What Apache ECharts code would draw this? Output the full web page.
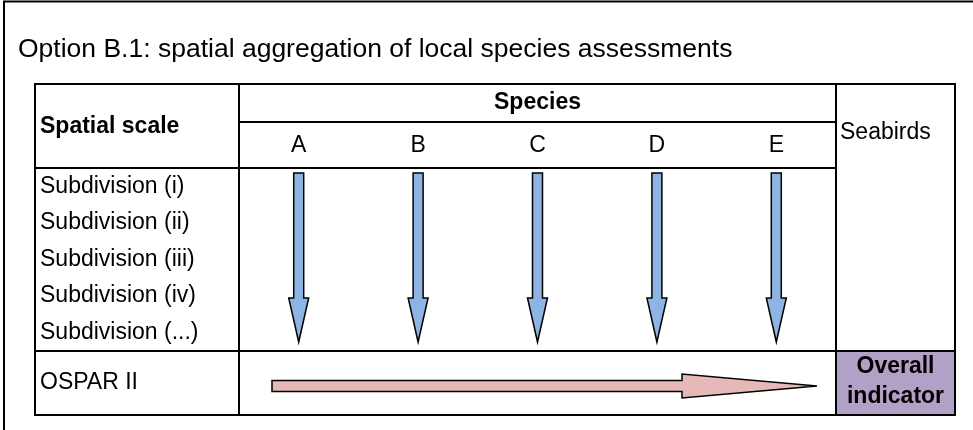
<!DOCTYPE html>
<html>
<head>
<meta charset="utf-8">
<script src="https://cdn.jsdelivr.net/npm/echarts@6/dist/echarts.min.js"></script>
<style>
  html, body { margin: 0; padding: 0; background: #fff; }
  #chart { width: 973px; height: 430px; }
</style>
</head>
<body>
<div id="chart"></div>
<script>
// table content
const chartTitle = 'Option B.1: spatial aggregation of local species assessments'
const species = ['A', 'B', 'C', 'D', 'E']
const subdivisions = ['Subdivision (i)', 'Subdivision (ii)', 'Subdivision (iii)', 'Subdivision (iv)', 'Subdivision (...)']
const regions = ['OSPAR II']
const speciesGroup = 'Seabirds'
const outcome = ['Overall', 'indicator']

const FONT = "'Liberation Sans', Arial, sans-serif"
const BLUE = '#8DB4E2'
const PINK = '#E6B9B8'
const PURPLE = '#B2A1C7'

// cells of the table, each one a grid: [x0, y0, x1, y1, fill]
// first two carry the real axes (species x subdivisions, species x region)
const boxes = [
  [239, 168, 836, 351],
  [239, 351, 836, 415],
  [4, 1.5, 1300, 900],
  [35, 84, 239, 168],
  [239, 84, 836, 122],
  [239, 122, 836, 168],
  [836, 84, 955, 351],
  [35, 168, 239, 351],
  [35, 351, 239, 415],
  [836, 351, 955, 415, PURPLE]
]

const grid = boxes.map(b => ({
  left: b[0], top: b[1], width: b[2] - b[0], height: b[3] - b[1],
  show: true, borderColor: '#000', borderWidth: 2,
  backgroundColor: b[4] || 'transparent',
  containLabel: false, outerBoundsMode: 'none'
}))

const hidden = { axisLine: { show: false }, axisTick: { show: false }, splitLine: { show: false } }
const label = { color: '#000', fontSize: 23, fontFamily: FONT }

const xAxis = boxes.map((b, i) => ({ type: 'value', gridIndex: i, min: 0, max: 1, ...hidden, axisLabel: { show: false } }))
const yAxis = boxes.map((b, i) => ({ type: 'value', gridIndex: i, min: 0, max: 1, ...hidden, axisLabel: { show: false } }))

xAxis[0] = {
  type: 'category', gridIndex: 0, data: species, position: 'top', boundaryGap: true, ...hidden,
  axisLabel: { ...label, interval: 0, margin: 11 }
}
yAxis[0] = {
  type: 'category', gridIndex: 0, data: subdivisions, inverse: true, ...hidden,
  axisLabel: { ...label, interval: 0, align: 'left', margin: 199 }
}
yAxis[1] = {
  type: 'category', gridIndex: 1, data: regions, ...hidden,
  axisLabel: { ...label, align: 'left', margin: 199 }
}

// one down arrow per species: local assessments aggregated over subdivisions
function downArrow(params, api) {
  const cs = params.coordSys
  const cx = api.coord([api.value(0), 0])[0]
  const y0 = cs.y + 5
  const ys = cs.y + cs.height - 53
  const yt = cs.y + cs.height - 9
  return {
    type: 'polygon',
    shape: { points: [[cx - 5, y0], [cx + 5, y0], [cx + 5, ys], [cx + 10, ys], [cx, yt], [cx - 10, ys], [cx - 5, ys]] },
    style: { fill: BLUE, stroke: '#000', lineWidth: 1.5 }
  }
}

// species results aggregated at OSPAR II level into the overall indicator
function sideArrow(params, api) {
  const start = api.coord([api.value(0), 0])
  const end = api.coord([api.value(1), 0])
  const x0 = start[0] + 33
  const xt = end[0] - 19
  const xs = xt - 135
  const cy = start[1] + 3
  return {
    type: 'polygon',
    shape: { points: [[x0, cy - 5.5], [xs, cy - 5.5], [xs, cy - 12], [xt, cy], [xs, cy + 12], [xs, cy + 5.5], [x0, cy + 5.5]] },
    style: { fill: PINK, stroke: '#000', lineWidth: 1.5 }
  }
}

const titleStyle = (size, weight) => ({ color: '#000', fontSize: size, fontWeight: weight, fontFamily: FONT })

const chart = echarts.init(document.getElementById('chart'))
chart.setOption({
  animation: false,
  backgroundColor: '#fff',
  title: [
    { text: chartTitle, left: 18, top: 50, padding: 0, textAlign: 'left', textVerticalAlign: 'middle', textStyle: titleStyle(26.5, 'normal') },
    { text: 'Spatial scale', left: 40, top: 127, padding: 0, textAlign: 'left', textVerticalAlign: 'middle', textStyle: titleStyle(23, 'bold') },
    { text: 'Species', left: 537.5, top: 103, padding: 0, textAlign: 'center', textVerticalAlign: 'middle', textStyle: titleStyle(23, 'bold') },
    { text: speciesGroup, left: 840, top: 133, padding: 0, textAlign: 'left', textVerticalAlign: 'middle', textStyle: titleStyle(23, 'normal') },
    { text: outcome.join('\n'), left: 895.5, top: 382, padding: 0, textAlign: 'center', textVerticalAlign: 'middle', textStyle: { ...titleStyle(23, 'bold'), lineHeight: 30 } }
  ],
  grid, xAxis, yAxis,
  series: [
    {
      type: 'custom', name: 'local assessments', xAxisIndex: 0, yAxisIndex: 0,
      data: species.map((s, i) => [i, 0]),
      encode: { x: 0, y: 1 },
      renderItem: downArrow
    },
    {
      type: 'custom', name: 'aggregation', xAxisIndex: 1, yAxisIndex: 1,
      data: [[0, 1]],
      encode: { x: [0, 1] },
      renderItem: sideArrow
    }
  ]
})
</script>
</body>
</html>
